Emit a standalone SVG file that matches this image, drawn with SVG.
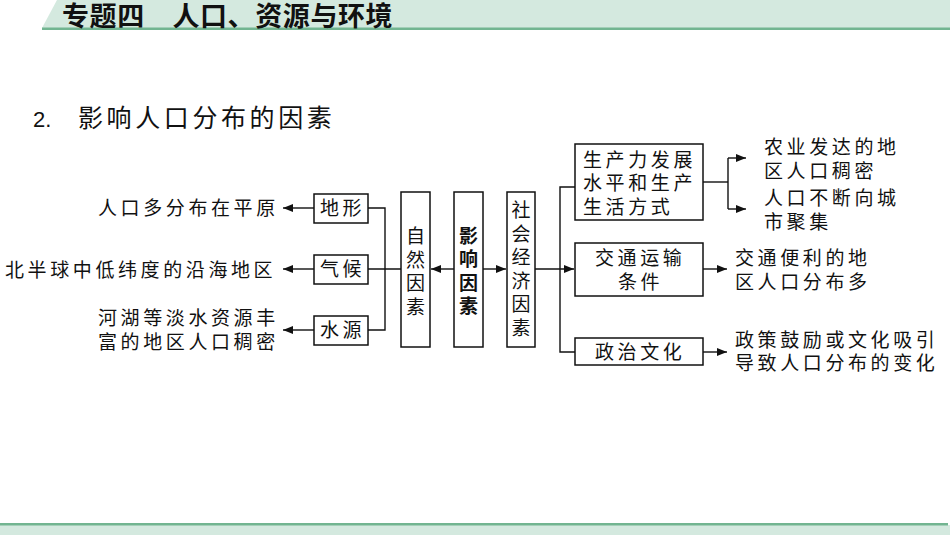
<svg xmlns="http://www.w3.org/2000/svg" width="950" height="535" viewBox="0 0 950 535">
<style>
.t{font-family:"Noto Sans CJK SC","Noto Sans",sans-serif;font-size:19px;letter-spacing:3.6px;fill:#111}
.v{font-family:"Noto Sans CJK SC","Noto Sans",sans-serif;font-size:19px;fill:#111;writing-mode:vertical-rl;text-orientation:upright;letter-spacing:4.5px}
.box{fill:#fff;stroke:#111;stroke-width:1.5}
.ln{fill:none;stroke:#111;stroke-width:1.4}
</style>
<defs>
<marker id="ah" viewBox="0 0 10 8" refX="10" refY="4" markerWidth="10" markerHeight="8" markerUnits="userSpaceOnUse" orient="auto">
<path d="M0,0 L10,4 L0,8 z" fill="#111"/>
</marker>
</defs>
<g id="header">
<polygon points="57,0 950,0 950,28 42,28" fill="#d4e9df"/>
<rect x="42" y="27.5" width="908" height="2.5" fill="#72b591"/>
<text x="62" y="25.5" font-family="'Noto Sans CJK SC',sans-serif" font-size="27" font-weight="bold" letter-spacing="0.6" fill="#111">专题四　人口、资源与环境</text>
</g>
<g id="footer">
<rect x="0" y="525" width="950" height="10" fill="#d4e9df"/>
<rect x="0" y="523" width="948" height="2.5" fill="#72b591"/>
</g>
<g id="title">
<text x="33" y="127" font-family="'Liberation Sans',sans-serif" font-size="22" fill="#111">2.</text>
<text x="78" y="127" font-family="'Noto Sans CJK SC',sans-serif" font-size="25" letter-spacing="3.6" fill="#111">影响人口分布的因素</text>
</g>
<g id="connectors">
<line class="ln" x1="314" y1="208" x2="283" y2="208" marker-end="url(#ah)"/>
<line class="ln" x1="314" y1="269" x2="283" y2="269" marker-end="url(#ah)"/>
<line class="ln" x1="314" y1="330" x2="283" y2="330" marker-end="url(#ah)"/>
<polyline class="ln" points="368,208 385,208 385,330 368,330"/>
<line class="ln" x1="368" y1="269" x2="401" y2="269"/>
<line class="ln" x1="454" y1="269" x2="431" y2="269" marker-end="url(#ah)"/>
<line class="ln" x1="483" y1="269" x2="506" y2="269" marker-end="url(#ah)"/>
<line class="ln" x1="535" y1="269" x2="574" y2="269" marker-end="url(#ah)"/>
<polyline class="ln" points="575,187 560,187 560,352 575,352"/>
<line class="ln" x1="703" y1="182" x2="728" y2="182"/>
<line class="ln" x1="728" y1="158" x2="728" y2="209"/>
<line class="ln" x1="728" y1="158" x2="746" y2="158" marker-end="url(#ah)"/>
<line class="ln" x1="728" y1="209" x2="746" y2="209" marker-end="url(#ah)"/>
<line class="ln" x1="703" y1="269" x2="727" y2="269" marker-end="url(#ah)"/>
<line class="ln" x1="703" y1="352" x2="727" y2="352" marker-end="url(#ah)"/>
</g>
<g id="n-dixing"><rect class="box" x="314" y="194" width="54" height="29"/><text class="t" x="320" y="215">地形</text></g>
<g id="n-qihou"><rect class="box" x="314" y="255" width="54" height="29"/><text class="t" x="320" y="276">气候</text></g>
<g id="n-shuiyuan"><rect class="box" x="314" y="316" width="54" height="29"/><text class="t" x="320" y="337">水源</text></g>
<g id="r-dixing"><text class="t" x="98" y="215">人口多分布在平原</text></g>
<g id="r-qihou"><text class="t" x="5" y="277">北半球中低纬度的沿海地区</text></g>
<g id="r-shuiyuan"><text class="t"><tspan x="98" y="325">河湖等淡水资源丰</tspan><tspan x="98" y="349">富的地区人口稠密</tspan></text></g>
<g id="n-ziran"><rect class="box" x="401" y="192" width="29" height="155"/>
<text class="v" x="415.5" y="226.5">自然因素</text></g>
<g id="n-yingxiang"><rect class="box" x="454" y="192" width="29" height="155"/>
<text class="v" x="468.5" y="226" font-size="22" font-weight="bold" letter-spacing="2.3">影响因素</text></g>
<g id="n-shehui"><rect class="box" x="507" y="192" width="28" height="155"/>
<text class="v" x="521" y="200.5">社会经济因素</text></g>
<g id="n-shengchan"><rect class="box" x="575" y="144" width="128" height="76"/>
<text class="t"><tspan x="583" y="167">生产力发展</tspan><tspan x="583" y="190">水平和生产</tspan><tspan x="583" y="214">生活方式</tspan></text></g>
<g id="n-jiaotong"><rect class="box" x="575" y="243" width="128" height="53"/>
<text class="t"><tspan x="595" y="265">交通运输</tspan><tspan x="618" y="289">条件</tspan></text></g>
<g id="n-zhengzhi"><rect class="box" x="575" y="338" width="128" height="27"/>
<text class="t" x="595" y="359">政治文化</text></g>
<g id="r-shengchan"><text class="t"><tspan x="764" y="154">农业发达的地</tspan><tspan x="764" y="178">区人口稠密</tspan></text><text class="t"><tspan x="764" y="205">人口不断向城</tspan><tspan x="764" y="229">市聚集</tspan></text></g>
<g id="r-jiaotong"><text class="t"><tspan x="735" y="265">交通便利的地</tspan><tspan x="735" y="289">区人口分布多</tspan></text></g>
<g id="r-zhengzhi"><text class="t"><tspan x="735" y="347">政策鼓励或文化吸引</tspan><tspan x="735" y="370">导致人口分布的变化</tspan></text></g>
</svg>
